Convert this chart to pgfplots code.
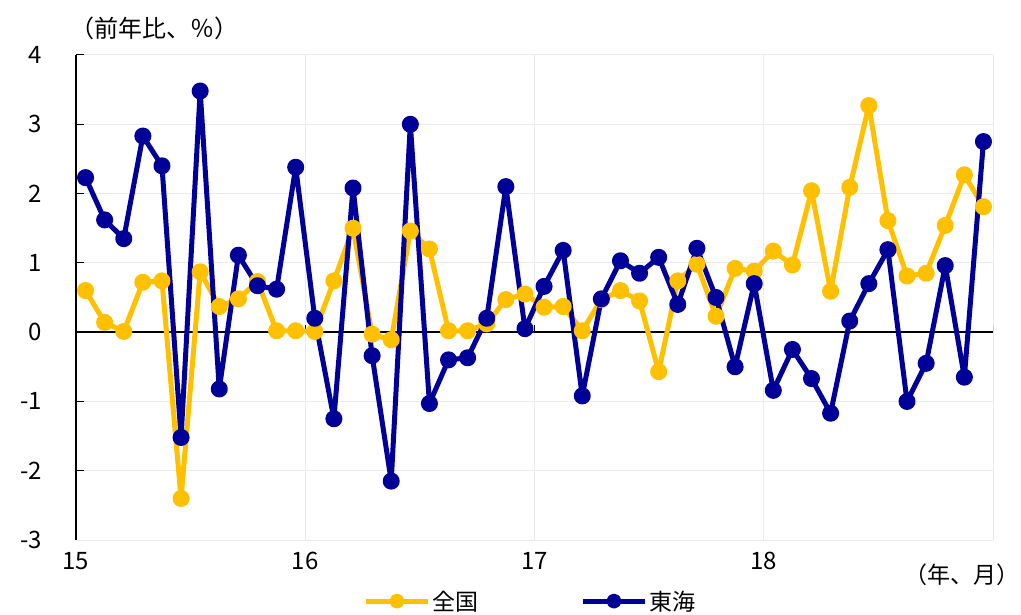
\documentclass[border=0pt]{standalone}
\usepackage{pgfplots}
\usepackage{pgfplotstable}
\pgfplotsset{compat=1.18}
\usepackage{fontspec}
\setmainfont{Noto Sans CJK JP}
\definecolor{cY}{RGB}{255,192,0}
\definecolor{cB}{RGB}{0,0,153}
\definecolor{gridc}{RGB}{235,235,235}

\pgfplotstableread{
x zenkoku tokai
0.5 0.60 2.23
1.5 0.14 1.62
2.5 0.01 1.35
3.5 0.72 2.83
4.5 0.74 2.40
5.5 -2.40 -1.52
6.5 0.87 3.48
7.5 0.37 -0.82
8.5 0.48 1.11
9.5 0.73 0.67
10.5 0.02 0.62
11.5 0.02 2.38
12.5 0.01 0.20
13.5 0.74 -1.25
14.5 1.50 2.08
15.5 -0.03 -0.34
16.5 -0.11 -2.15
17.5 1.46 3.00
18.5 1.20 -1.03
19.5 0.02 -0.40
20.5 0.02 -0.37
21.5 0.12 0.20
22.5 0.47 2.10
23.5 0.55 0.05
24.5 0.36 0.66
25.5 0.37 1.18
26.5 0.02 -0.92
27.5 0.47 0.48
28.5 0.60 1.03
29.5 0.45 0.85
30.5 -0.57 1.08
31.5 0.74 0.40
32.5 0.98 1.21
33.5 0.23 0.50
34.5 0.92 -0.50
35.5 0.88 0.70
36.5 1.17 -0.84
37.5 0.97 -0.25
38.5 2.04 -0.67
39.5 0.59 -1.17
40.5 2.09 0.16
41.5 3.27 0.70
42.5 1.61 1.19
43.5 0.81 -1.00
44.5 0.85 -0.45
45.5 1.54 0.96
46.5 2.27 -0.65
47.5 1.81 2.75
}\datatable

\begin{document}
\begin{tikzpicture}
\path[use as bounding box] (0pt,0pt) rectangle (1021pt,614pt);
\begin{axis}[
  at={(76pt,74pt)}, anchor=south west,
  scale only axis, width=917pt, height=485pt,
  xmin=0, xmax=48, ymin=-3, ymax=4,
  axis y line*=left, axis x line*=bottom,
  y axis line style={black, line width=1.3pt},
  x axis line style={gridc, line width=1pt},
  xtick={0,12,24,36,48}, xticklabels={15,16,17,18,},
  ytick={-3,-2,-1,0,1,2,3,4}, yticklabels={-3,-2,-1,0,1,2,3,4},
  xtick style={draw=none},
  ytick style={black, line width=1pt},
  tick align=inside, major tick length=8pt,
  grid=major, major grid style={gridc, line width=1pt},
  tick label style={font=\fontsize{24}{28}\selectfont},
  xticklabel style={anchor=center, yshift=-21pt},
  yticklabel style={anchor=east, inner sep=0pt, xshift=-34pt},
  legend style={at={(0.4956,-0.126)}, anchor=center, draw=none, fill=none,
    font=\fontsize{23}{27}\selectfont, legend columns=2,
    /tikz/every even column/.append style={column sep=100pt}},
  legend image code/.code={\draw[#1, mark size=5pt, mark repeat=2, mark phase=2] plot coordinates {(0pt,0pt) (31pt,0pt) (62pt,0pt)};},
]
\draw[black, line width=1.3pt] (axis cs:0,0) -- (axis cs:48,0);
\draw[black, line width=1pt] (axis cs:12,0) -- ++(0pt,7pt);
\draw[black, line width=1pt] (axis cs:24,0) -- ++(0pt,7pt);
\draw[black, line width=1pt] (axis cs:36,0) -- ++(0pt,7pt);
\draw[black, line width=1pt] (axis cs:48,0) -- ++(0pt,7pt);
\addplot[cY, line width=5pt, line join=round, mark=*, mark size=6pt, mark options={solid}] table[x=x, y=zenkoku] {\datatable};
\addlegendentry{全国}
\addplot[cB, line width=5pt, line join=round, mark=*, mark size=6pt, mark options={solid}] table[x=x, y=tokai] {\datatable};
\addlegendentry{東海}
\end{axis}
\node[anchor=west, inner sep=0pt, font=\fontsize{24}{28}\selectfont] at (70pt,586pt) {（前年比、％）};
\node[anchor=east, inner sep=0pt, font=\fontsize{23}{27}\selectfont] at (1020pt,39pt) {（年、月）};
\end{tikzpicture}
\end{document}
